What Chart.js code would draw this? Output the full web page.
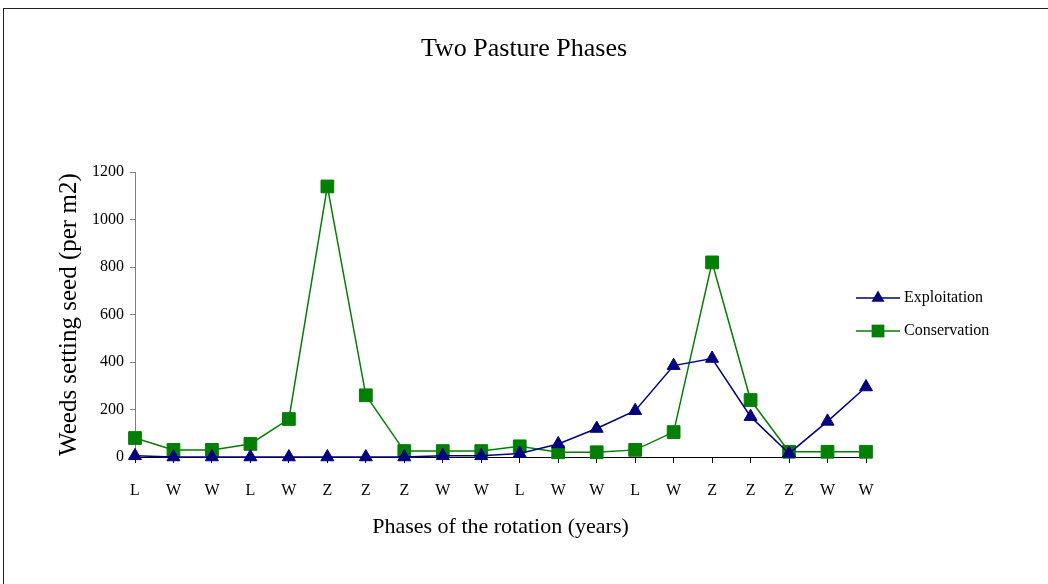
<!DOCTYPE html>
<html>
<head>
<meta charset="utf-8">
<script src="https://cdn.jsdelivr.net/npm/chart.js@4"></script>
<style>
  html, body { margin: 0; padding: 0; background: #fff; }
</style>
</head>
<body>
<canvas id="weeds-graph" width="1048" height="584"></canvas>
<script>
const phases = ['L', 'W', 'W', 'L', 'W', 'Z', 'Z', 'Z', 'W', 'W', 'L', 'W', 'W', 'L', 'W', 'Z', 'Z', 'Z', 'W', 'W'];
const exploitation = [5, 0, 0, 0, 0, 0, 0, 0, 5, 5, 15, 55, 120, 195, 385, 415, 170, 15, 150, 295];
const conservation = [80, 30, 30, 55, 160, 1140, 260, 25, 25, 25, 45, 20, 20, 30, 105, 820, 240, 22, 22, 22];
const yTicks = [0, 200, 400, 600, 800, 1000, 1200];

const serif = "'Liberation Serif', 'Times New Roman', serif";

// frame + legend drawn by hand (Excel style legend sits over the plot's right edge)
const excelBits = {
    id: 'excelBits',
    afterDraw(chart) {
        const c = chart.ctx;
        c.save();
        c.strokeStyle = '#222';
        c.lineWidth = 1;
        c.strokeRect(3.5, 8.5, 1200, 800);

        const rows = [298, 331];
        chart.data.datasets.forEach((ds, i) => {
            const y = rows[i];
            c.strokeStyle = ds.borderColor;
            c.lineWidth = 1.5;
            c.beginPath();
            c.moveTo(856, y);
            c.lineTo(900, y);
            c.stroke();
            c.fillStyle = ds.backgroundColor;
            const r = ds.pointRadius;
            c.beginPath();
            if (ds.pointStyle === 'triangle') {
                c.moveTo(878, y - r);
                c.lineTo(878 + r * 0.866, y + r * 0.5);
                c.lineTo(878 - r * 0.866, y + r * 0.5);
                c.closePath();
            } else {
                const s = r * Math.SQRT1_2;
                c.rect(878 - s, y - s, 2 * s, 2 * s);
            }
            c.fill();
            c.fillStyle = '#000';
            c.font = '16px ' + serif;
            c.textAlign = 'left';
            c.textBaseline = 'middle';
            c.fillText(ds.label, 904, y);
        });
        c.restore();
    }
};

const ctx = document.getElementById('weeds-graph').getContext('2d');
const weedsChart = new Chart(ctx, {
    type: 'line',
    data: {
        labels: phases,
        datasets: [{
            label: 'Exploitation',
            data: exploitation,
            borderColor: '#000080',
            backgroundColor: '#000080',
            borderWidth: 1.5,
            pointStyle: 'triangle',
            pointRadius: 7.5,
            pointBorderWidth: 1,
            tension: 0,
            clip: false
        }, {
            label: 'Conservation',
            data: conservation,
            borderColor: '#008000',
            backgroundColor: '#008000',
            borderWidth: 1.5,
            pointStyle: 'rect',
            pointRadius: 9,
            pointBorderWidth: 1,
            tension: 0,
            clip: false
        }]
    },
    options: {
        responsive: false,
        animation: false,
        layout: { padding: { left: 0, right: 0, top: 0, bottom: 0 } },
        plugins: {
            legend: { display: false },
            tooltip: { enabled: false },
            title: {
                display: true,
                text: 'Two Pasture Phases',
                color: '#000',
                font: { family: serif, size: 26, weight: 'normal' },
                padding: { top: 34, bottom: 107 }
            }
        },
        scales: {
            x: {
                offset: false,
                grid: { drawOnChartArea: false, tickLength: 6, color: '#000' },
                border: { color: '#000', width: 1 },
                ticks: { color: '#000', padding: 18, font: { family: serif, size: 16 }, maxRotation: 0, autoSkip: false },
                title: {
                    display: true,
                    text: 'Phases of the rotation (years)',
                    color: '#000',
                    font: { family: serif, size: 22 },
                    padding: { top: 0, bottom: 44 }
                },
                afterFit(scale) { scale.height = 127; }
            },
            y: {
                min: 0,
                max: 1200,
                afterBuildTicks(scale) { scale.ticks = yTicks.map(v => ({ value: v })); },
                grid: { drawOnChartArea: false, tickLength: 5, color: '#808080' },
                border: { color: '#808080', width: 1 },
                ticks: {
                    color: '#000',
                    padding: 6,
                    font: { family: serif, size: 16 },
                    callback: (v) => String(v)
                },
                title: {
                    display: true,
                    text: 'Weeds setting seed (per m2)',
                    color: '#000',
                    font: { family: serif, size: 25 },
                    padding: { top: 54, bottom: 0 }
                },
                afterFit(scale) { scale.width = 135; }
            },
            spacer: {
                position: 'right',
                display: true,
                grid: { display: false },
                border: { display: false },
                ticks: { display: false },
                afterFit(scale) { scale.width = 182; }
            }
        }
    },
    plugins: [excelBits]
});
</script>
</body>
</html>
